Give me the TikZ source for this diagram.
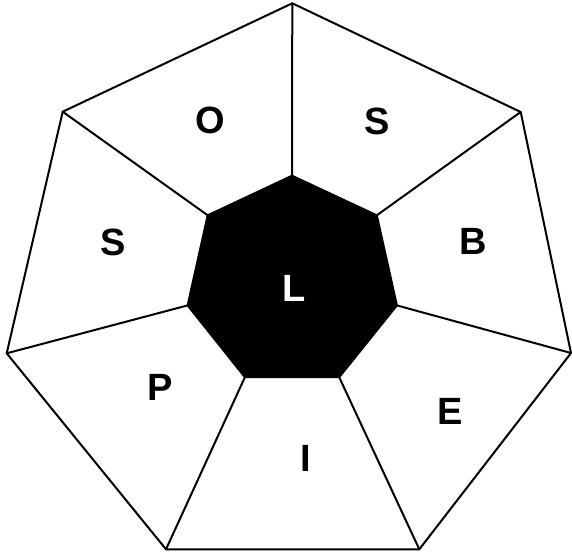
\documentclass[tikz,border=0pt]{standalone}
\usepackage{fontspec}
\setmainfont{Liberation Sans}
\usepackage{tikz}
\usetikzlibrary{positioning,calc}

\begin{document}
\begin{tikzpicture}[
  x=1pt, y=-1pt,
  edge/.style={draw=black, line width=2pt, line join=miter},
  core/.style={edge, fill=black},
  lbl/.style={font=\fontsize{38}{44}\selectfont\bfseries, inner sep=0pt}
]
\useasboundingbox (0,0) rectangle (572,552);

% outer heptagon
\coordinate (o1) at (292.3,3.3);
\coordinate (o2) at (520.7,112.0);
\coordinate (o3) at (571.0,353.0);
\coordinate (o4) at (419.3,549.3);
\coordinate (o5) at (166.0,549.3);
\coordinate (o6) at (6.7,353.3);
\coordinate (o7) at (62.7,111.7);

% inner heptagon
\coordinate (i1) at (292.0,175.7);
\coordinate (i2) at (376.8,215.3);
\coordinate (i3) at (396.9,305.4);
\coordinate (i4) at (339.2,377.2);
\coordinate (i5) at (244.9,377.2);
\coordinate (i6) at (187.6,305.4);
\coordinate (i7) at (207.7,215.3);

\draw[edge] (o1) -- (o2) -- (o3) -- (o4) -- (o5) -- (o6) -- (o7) -- cycle;
\foreach \k in {1,...,7}
  \draw[edge] (o\k) -- (i\k);
\draw[core] (i1) -- (i2) -- (i3) -- (i4) -- (i5) -- (i6) -- (i7) -- cycle;

% segment labels
\node[lbl] (segO) at (210,120) {O};
\node[lbl] (segS1) at (377.5,121) {S};
\node[lbl] (segB) at (473.6,241) {B};
\node[lbl] (segE) at (449.9,411.8) {E};
\node[lbl] (segI) at (305.8,458) {I};
\node[lbl] (segP) at (160.2,387) {P};
\node[lbl] (segS2) at (113.4,242) {S};
\node[lbl, text=white] (segL) at (294.5,288.5) {L};

\end{tikzpicture}
\end{document}
